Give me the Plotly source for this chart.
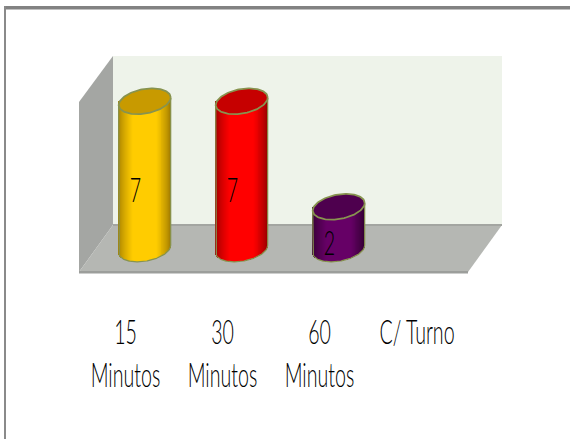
import numpy as np
import plotly.graph_objects as go

# Chart data
categories = ["15<br>Minutos", "30<br>Minutos", "60<br>Minutos", "C/ Turno"]
values = [7, 7, 2, None]
value_labels = ["7", "7", "2", ""]
body_colors = [(255, 204, 0), (255, 0, 0), (102, 0, 102)]
edge_colors = [(160, 122, 0), (150, 0, 0), (48, 0, 48)]
cap_colors = ["#C89A00", "#C60000", "#4E004E"]

W, H = 570, 439
PX_PER_CAT = 97.0      # horizontal distance between categories
PX_PER_UNIT = 21.1     # vertical pixels for one unit of value
X0_PX, Y0_PX = 144.7, 249.0  # pixel position of category 0, value 0

# Cylinder shape, in pixels converted to axis units
HALF_W = 26.0 / PX_PER_CAT
ELL_B = 12.3 / PX_PER_UNIT
ELL_TILT = 3.7 / PX_PER_UNIT
OUTLINE = "#87934F"


def px(x):
    return x / W


def py(y):
    return 1 - y / H


def poly(points, fill, line=None, width=0):
    path = "M " + " L ".join(f"{px(a):.4f},{py(b):.4f}" for a, b in points) + " Z"
    return dict(type="path", path=path, xref="paper", yref="paper", fillcolor=fill,
                line=dict(color=line or fill, width=width), layer="below")


def rect(x0, y0, x1, y1, fill):
    return dict(type="rect", xref="paper", yref="paper", x0=px(x0), x1=px(x1),
                y0=py(y0), y1=py(y1), fillcolor=fill, line=dict(width=0), layer="below")


def ellipse(i, level):
    t = np.linspace(0, 2 * np.pi, 121)
    return i + HALF_W * np.cos(t), level + ELL_B * np.sin(t) + ELL_TILT * np.cos(t)


def lower_arc(u):
    # Lower edge of the tilted ellipse at horizontal offset u in [-1, 1]
    return -ELL_B * np.sqrt(np.clip(1 - u * u, 0, 1)) + ELL_TILT * u


fig = go.Figure()

for i, v in enumerate(values):
    if v is None:
        continue
    # Body: narrow bars carry the horizontal shading of the cylinder
    n = 54
    u = (np.arange(n) + 0.5) / n * 2 - 1
    k = np.clip((1 - np.abs(u)) / 0.55, 0, 1) ** 0.7
    cols = []
    for kk in k:
        c = [round(e + (b - e) * kk) for e, b in zip(edge_colors[i], body_colors[i])]
        cols.append(f"rgb({c[0]},{c[1]},{c[2]})")
    base = lower_arc(u)
    fig.add_bar(x=i + u * HALF_W, y=v - base, base=base,
                width=2 * HALF_W / n * 1.1,
                marker=dict(color=cols, line=dict(width=0)),
                showlegend=False, hoverinfo="skip")
    # Outline of body (lower arc and sides)
    uu = np.linspace(-1, 1, 81)
    fig.add_scatter(x=np.r_[-1, uu, 1] * HALF_W + i,
                    y=np.r_[v - ELL_TILT, lower_arc(uu), v + ELL_TILT],
                    mode="lines", line=dict(color=OUTLINE, width=1.2),
                    showlegend=False, hoverinfo="skip")
    # Top cap
    ex, ey = ellipse(i, v)
    fig.add_scatter(x=ex, y=ey, mode="lines", fill="toself", fillcolor=cap_colors[i],
                    line=dict(color=OUTLINE, width=1.8),
                    showlegend=False, hoverinfo="skip")

# Back wall, side wall, floor and frame
shapes = [
    rect(113, 56, 502, 225, "#EEF3EA"),
    poly([(113, 56), (79, 102), (79, 272), (113, 225)], "#A4A6A3"),
    poly([(113, 225), (502, 225), (468, 272), (79, 272)], "#B5B7B3"),
    rect(113, 224, 502, 226, "#A3A5A1"),
    rect(79, 271, 468, 273.5, "#9C9E9B"),
    rect(4, 6, 570, 9.5, "#828282"),
    rect(4, 6, 6, 439, "#8A8A8A"),
]

TEXT_FONT = dict(family="Lato, Liberation Sans, sans-serif", size=33, color="#000000", weight=300)
annotations = []
for i, v in enumerate(values):
    if v is None:
        continue
    annotations.append(dict(x=i, y=v / 2 - 0.67, xref="x", yref="y", xshift=-9.5,
                            text=value_labels[i], showarrow=False, font=TEXT_FONT,
                            xanchor="center", yanchor="middle"))
for i, label in enumerate(categories):
    annotations.append(dict(x=i, y=py(308.5), xref="x", yref="paper", xshift=-19,
                            text=label, showarrow=False, font=TEXT_FONT,
                            xanchor="center", yanchor="top", align="center"))

fig.update_layout(
    width=W, height=H, margin=dict(l=0, r=0, t=0, b=0), autosize=False,
    paper_bgcolor="white", plot_bgcolor="rgba(0,0,0,0)",
    barmode="overlay", bargap=0, shapes=shapes, annotations=annotations,
    xaxis=dict(visible=False, range=[-X0_PX / PX_PER_CAT, (W - X0_PX) / PX_PER_CAT]),
    yaxis=dict(visible=False, range=[(Y0_PX - H) / PX_PER_UNIT, Y0_PX / PX_PER_UNIT]),
)

# Condense the label text horizontally once the annotations are drawn
squeeze = """
var gd = document.getElementById('{plot_id}');
function squeezeText() {
  gd.querySelectorAll('.annotation-text').forEach(function (t) {
    var x = parseFloat(t.getAttribute('x'));
    t.setAttribute('transform', 'translate(' + x + ',0) scale(0.595,1) translate(' + (-x) + ',0)');
  });
}
squeezeText();
gd.on('plotly_afterplot', squeezeText);
"""
fig.write_html("out.html", post_script=squeeze, config=dict(displayModeBar=False))
